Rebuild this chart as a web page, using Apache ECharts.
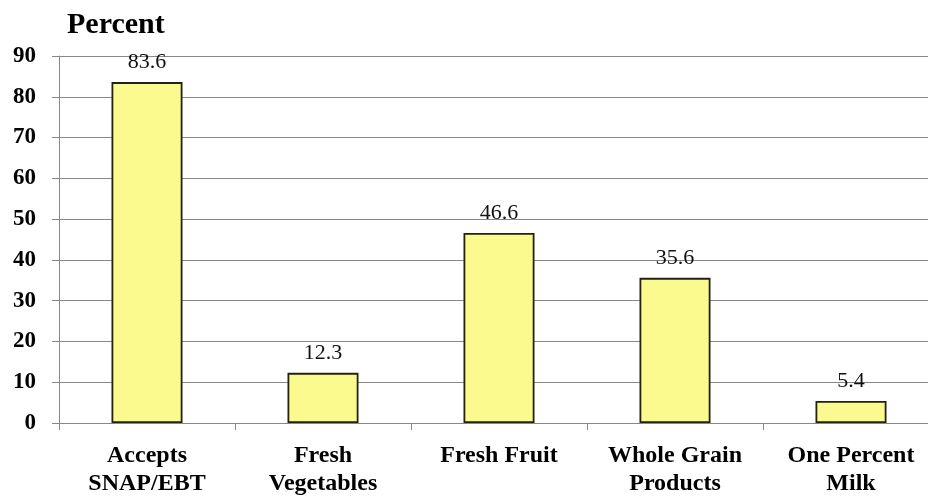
<!DOCTYPE html>
<html lang="en">
<head>
    <meta charset="UTF-8">
    <title>Percent</title>
    <script src="https://cdn.jsdelivr.net/npm/echarts@6/dist/echarts.min.js"></script>
    <style>
        html, body { margin: 0; padding: 0; background: #fff; }
        #chart1 { width: 928px; height: 498px; }
    </style>
</head>
<body>
    <div id="chart1"></div>
    <script>
        // data
        var categories = ['Accepts\nSNAP/EBT', 'Fresh\nVegetables', 'Fresh Fruit', 'Whole Grain\nProducts', 'One Percent\nMilk'];
        var values = [83.6, 12.3, 46.6, 35.6, 5.4];
        var yTicks = [0, 10, 20, 30, 40, 50, 60, 70, 80, 90];

        var serif = '"Liberation Serif", "DejaVu Serif", serif';
        var myChart = echarts.init(document.getElementById('chart1'));

        var option = {
            animation: false,
            backgroundColor: '#fff',
            title: {
                text: 'Percent',
                left: 62,
                top: 5,
                textStyle: { fontFamily: serif, fontWeight: 'bold', fontSize: 30, color: '#000' }
            },
            grid: {
                left: 59,
                top: 56,
                width: 880,
                height: 367,
                containLabel: false,
                outerBoundsMode: 'none'
            },
            xAxis: {
                type: 'category',
                data: categories,
                axisLine: { lineStyle: { color: '#888', width: 1 } },
                axisTick: { show: true, length: 7, lineStyle: { color: '#888' } },
                axisLabel: {
                    margin: 19,
                    interval: 0,
                    fontFamily: serif,
                    fontWeight: 'bold',
                    fontSize: 24,
                    lineHeight: 28,
                    color: '#000'
                }
            },
            yAxis: {
                type: 'value',
                min: yTicks[0],
                max: yTicks[yTicks.length - 1],
                interval: 10,
                axisLine: { show: true, lineStyle: { color: '#888', width: 1 } },
                axisTick: { show: true, length: 7, lineStyle: { color: '#888' } },
                splitLine: { lineStyle: { color: '#888', width: 1 } },
                axisLabel: {
                    margin: 23,
                    fontFamily: serif,
                    fontWeight: 'bold',
                    fontSize: 23,
                    color: '#000'
                }
            },
            series: [{
                type: 'bar',
                data: values,
                barWidth: 71,
                itemStyle: {
                    color: '#fafa8e',
                    borderColor: '#222214',
                    borderWidth: 1.8
                },
                label: {
                    show: true,
                    position: 'top',
                    distance: 9,
                    fontFamily: serif,
                    fontSize: 22,
                    color: '#111',
                    formatter: function (p) { return p.value.toFixed(1); }
                }
            }]
        };

        myChart.setOption(option);
    </script>
</body>
</html>
